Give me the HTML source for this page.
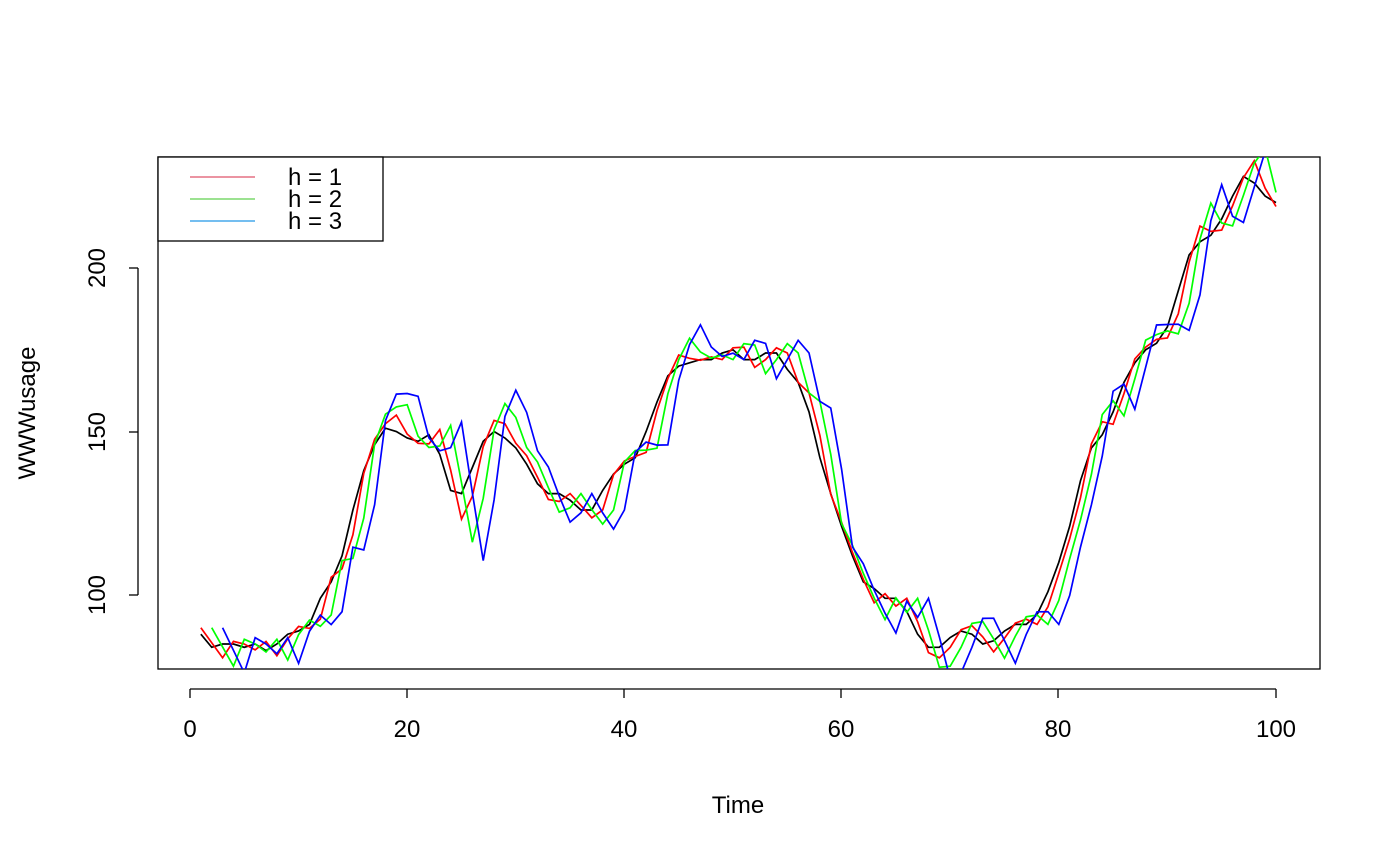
<!DOCTYPE html>
<html><head><meta charset="utf-8"><style>body{margin:0;background:#fff}svg{display:block}text{font-family:"Liberation Sans",sans-serif;font-size:24px;fill:#000}</style></head>
<body>
<svg id="s" width="1400" height="866" xmlns="http://www.w3.org/2000/svg">
<defs><clipPath id="c"><rect x="158" y="157" width="1162" height="512"/></clipPath></defs>
<rect x="158" y="157" width="1162" height="512" fill="none" stroke="#000" stroke-width="1.3"/>
<g id="lines" clip-path="url(#c)" fill="none" stroke-width="1.7"></g>
<g stroke="#000" stroke-width="1.3">
<line x1="190" y1="689" x2="1276" y2="689"/>
<line x1="190" y1="689" x2="190" y2="698"/><line x1="407" y1="689" x2="407" y2="698"/><line x1="624" y1="689" x2="624" y2="698"/><line x1="841" y1="689" x2="841" y2="698"/><line x1="1058" y1="689" x2="1058" y2="698"/><line x1="1276" y1="689" x2="1276" y2="698"/>
<line x1="138" y1="268" x2="138" y2="595"/>
<line x1="129" y1="268" x2="138" y2="268"/><line x1="129" y1="432" x2="138" y2="432"/><line x1="129" y1="595" x2="138" y2="595"/>
</g>
<g text-anchor="middle">
<text x="190" y="737">0</text><text x="407" y="737">20</text><text x="624" y="737">40</text><text x="841" y="737">60</text><text x="1058" y="737">80</text><text x="1276" y="737">100</text>
<text x="738" y="813">Time</text>
<text transform="translate(105,268) rotate(-90)">200</text>
<text transform="translate(105,432) rotate(-90)">150</text>
<text transform="translate(105,595) rotate(-90)">100</text>
<text transform="translate(35,413) rotate(-90)">WWWusage</text>
</g>
<rect x="158" y="157" width="225" height="84" fill="#fff" stroke="#000" stroke-width="1.3"/>
<line x1="190" y1="177" x2="255" y2="177" stroke="#DF536B" stroke-width="1.3"/>
<line x1="190" y1="199" x2="255" y2="199" stroke="#61D04F" stroke-width="1.3"/>
<line x1="190" y1="221" x2="255" y2="221" stroke="#2297E6" stroke-width="1.3"/>
<text x="288" y="185">h = 1</text><text x="288" y="207">h = 2</text><text x="288" y="229">h = 3</text>
</svg>
<script>
var x=[88,84,85,85,84,85,83,85,88,89,91,99,104,112,126,138,146,151,150,148,147,149,143,132,131,139,147,150,148,145,140,134,131,131,129,126,126,132,137,140,142,150,159,167,170,171,172,172,174,175,172,172,174,174,169,165,156,142,131,121,112,104,102,99,99,95,88,84,84,87,89,88,85,86,89,91,91,94,101,110,121,135,145,149,156,165,171,175,177,182,193,204,208,210,215,222,228,226,222,220];
function px(t){return 190+t*10.86}function py(v){return 595-(v-100)*3.27}
var g=document.getElementById('lines');
function add(pts,col){var p=document.createElementNS('http://www.w3.org/2000/svg','polyline');p.setAttribute('points',pts.join(' '));p.setAttribute('stroke',col);g.appendChild(p);}
var ks=[0,0.8,1.44,1.952];
var series=[[],[],[],[]];
series[1].push(px(1)+','+py(90).toFixed(1));
series[2].push(px(2)+','+py(90).toFixed(1));
series[3].push(px(3)+','+py(90).toFixed(1));
for(var t=1;t<=100;t++){series[0].push(px(t)+','+py(x[t-1]).toFixed(1));
for(var h=1;h<=3;h++){var i=t-h;if(i>=2){var v=x[i-1]+ks[h]*(x[i-1]-x[i-2]);series[h].push(px(t)+','+py(v).toFixed(1));}}}
add(series[0],'#000');add(series[1],'#ff0000');add(series[2],'#00ff00');add(series[3],'#0000ff');
</script>
</body></html>
